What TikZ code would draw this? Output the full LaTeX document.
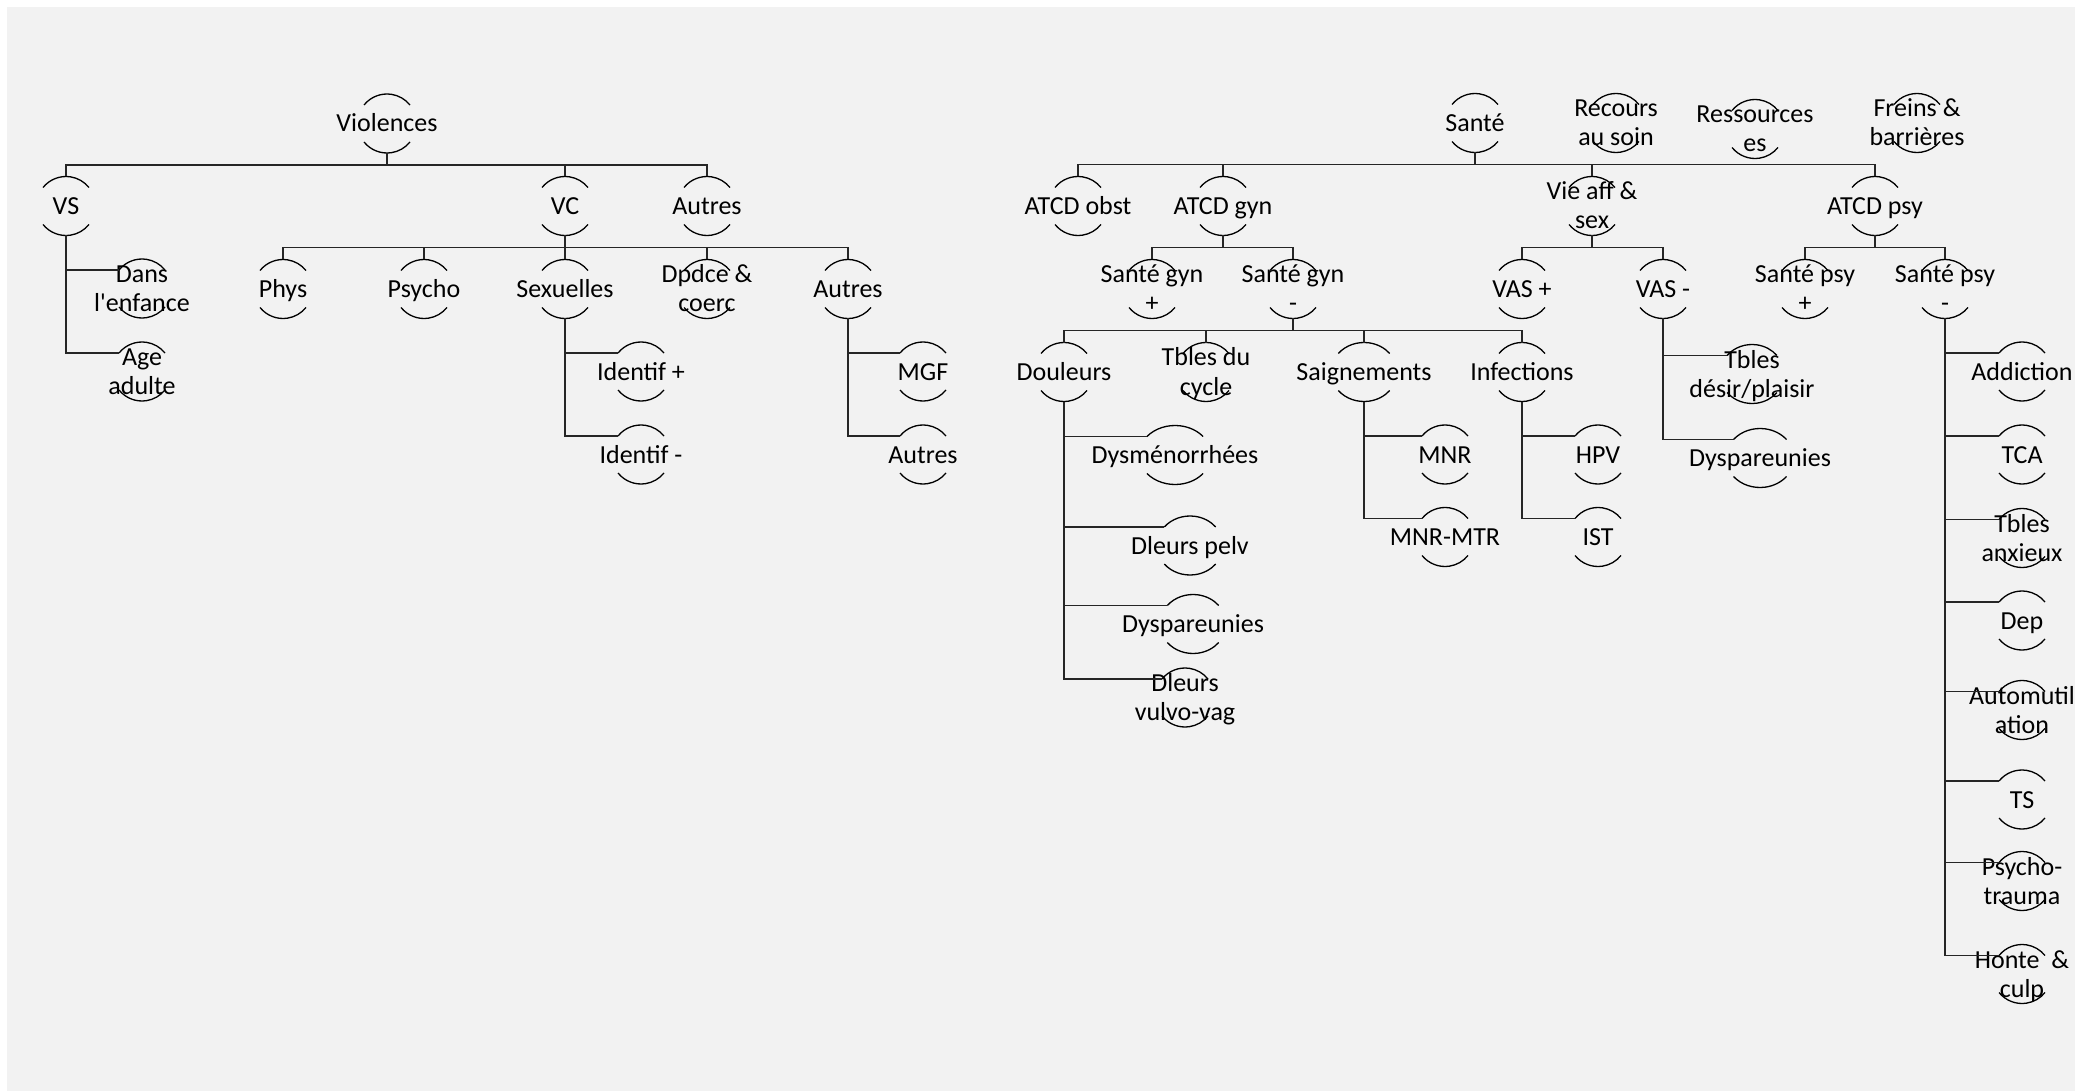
\documentclass[tikz,border=0pt]{standalone}
\usepackage{fontspec}
\setmainfont{Carlito}[Ligatures=TeXOff]
\definecolor{bgc}{HTML}{F2F2F2}
\definecolor{lnc}{HTML}{262626}
\tikzset{
  lbl/.style={inner sep=0pt, outer sep=0pt, align=center, text=black,
    font={\fontsize{26}{29}\selectfont\lineskiplimit=-100pt},
    execute at end node={\rule[-6pt]{0pt}{29pt}}},
  arcln/.style={line width=1.3pt, draw=black},
  conn/.style={line width=1.8pt, draw=lnc}
}
% name, x, y (pixels, downward), x radius, text
\newcommand\hnode[5]{%
  \node[lbl] (#1) at (#2,-#3) {\rule[-6pt]{0pt}{29pt}#5};
  \coordinate (#1-t) at (#2,-#3+29.5);
  \coordinate (#1-b) at (#2,-#3-29.5);
  \coordinate (#1-l) at (#2-0.779*#4,-#3+18.5);
  \draw[arcln] ([shift={(141.2:#4pt and 29.5pt)}]#1.center) arc[start angle=141.2,end angle=38.8,x radius=#4pt,y radius=29.5pt];
  \draw[arcln] ([shift={(218.8:#4pt and 29.5pt)}]#1.center) arc[start angle=218.8,end angle=321.2,x radius=#4pt,y radius=29.5pt];
}
\newcommand\barto[2]{\draw[conn] (#1-b) -- ++(0,-12) -| (#2-t);}
\newcommand\listto[2]{\draw[conn] (#1-b) |- (#2-l);}
\begin{document}
\begin{tikzpicture}[x=1pt,y=1pt]
\useasboundingbox (0,0) rectangle (2075,-1091);
\clip (0,0) rectangle (2075,-1091);
\fill[white] (0,0) rectangle (2075,-1091);
\fill[bgc] (7,-7) rectangle (2075,-1091);

% ---------- Violences tree ----------
\hnode{vio}{387}{123.5}{29.5}{Violences}
\hnode{vs}{66}{206}{29.5}{VS}
\hnode{vc}{565}{206}{29.5}{VC}
\hnode{aut1}{707}{206}{29.5}{Autres}
\hnode{enf}{142}{288.5}{29.5}{Dans\\l'enfance}
\hnode{age}{142}{371.5}{29.5}{Age\\adulte}
\hnode{phys}{283}{289}{29.5}{Phys}
\hnode{psycho}{424}{289}{29.5}{Psycho}
\hnode{sex}{565}{289}{29.5}{Sexuelles}
\hnode{dpd}{707}{289}{29.5}{Dpdce \&\\coerc}
\hnode{aut2}{848}{289}{29.5}{Autres}
\hnode{idp}{641}{371.5}{29.5}{Identif +}
\hnode{idm}{641}{454.5}{29.5}{Identif -}
\hnode{mgf}{923}{371.5}{29.5}{MGF}
\hnode{aut3}{923}{454.5}{29.5}{Autres}

\barto{vio}{vs}\barto{vio}{vc}\barto{vio}{aut1}
\listto{vs}{enf}\listto{vs}{age}
\barto{vc}{phys}\barto{vc}{psycho}\barto{vc}{sex}\barto{vc}{dpd}\barto{vc}{aut2}
\listto{sex}{idp}\listto{sex}{idm}
\listto{aut2}{mgf}\listto{aut2}{aut3}

% ---------- Santé tree ----------
\hnode{sante}{1475}{123}{29.5}{Santé}
\hnode{rec}{1616}{123}{29.5}{Recours\\au soin}
\hnode{res}{1755}{129}{29.5}{Ressources\\es}
\hnode{fre}{1917}{123}{29.5}{Freins \&\\barrières}
\hnode{obst}{1078}{206}{29.5}{ATCD obst}
\hnode{gyn}{1223}{206}{29.5}{ATCD gyn}
\hnode{vie}{1592}{206}{29.5}{Vie aff \&\\sex}
\hnode{psy}{1875}{206}{29.5}{ATCD psy}
\hnode{sgp}{1152}{289}{29.5}{Santé gyn\\+}
\hnode{sgm}{1293}{289}{29.5}{Santé gyn\\-}
\hnode{vasp}{1522}{289}{29.5}{VAS +}
\hnode{vasm}{1663}{289}{29.5}{VAS -}
\hnode{spp}{1805}{289}{29.5}{Santé psy\\+}
\hnode{spm}{1945}{289}{29.5}{Santé psy\\-}
\hnode{dou}{1064}{372}{29.5}{Douleurs}
\hnode{cyc}{1206}{372}{29.5}{Tbles du\\cycle}
\hnode{sai}{1364}{372}{33}{Saignements}
\hnode{inf}{1522}{372}{29.5}{Infections}
\hnode{dysm}{1175}{455}{36}{Dysménorrhées}
\hnode{pelv}{1190}{545.5}{33}{Dleurs pelv}
\hnode{dysp}{1193}{624}{33}{Dyspareunies}
\hnode{vv}{1185}{697.5}{29.5}{Dleurs\\vulvo-vag}
\hnode{mnr}{1445}{454.5}{29.5}{MNR}
\hnode{mtr}{1445}{537}{29.5}{MNR-MTR}
\hnode{hpv}{1598}{454.5}{29.5}{HPV}
\hnode{ist}{1598}{537}{29.5}{IST}
\hnode{tdp}{1752}{374}{32}{Tbles\\désir/plaisir}
\hnode{dysq}{1760}{458}{34}{Dyspareunies}
\hnode{add}{2022}{371.5}{29.5}{Addiction}
\hnode{tca}{2022}{454.5}{29.5}{TCA}
\hnode{anx}{2022}{538}{29.5}{Tbles\\anxieux}
\hnode{dep}{2022}{620.5}{29.5}{Dep}
\hnode{aut}{2022}{710}{29.5}{Automutil\\ation}
\hnode{ts}{2022}{799.5}{29.5}{TS}
\hnode{ptr}{2022}{881}{29.5}{Psycho-\\trauma}
\hnode{hon}{2022}{974}{29.5}{Honte~ \&\\culp}

\barto{sante}{obst}\barto{sante}{gyn}\barto{sante}{vie}\barto{sante}{psy}
\barto{gyn}{sgp}\barto{gyn}{sgm}
\barto{vie}{vasp}\barto{vie}{vasm}
\barto{psy}{spp}\barto{psy}{spm}
\barto{sgm}{dou}\barto{sgm}{cyc}\barto{sgm}{sai}\barto{sgm}{inf}
\listto{dou}{dysm}\listto{dou}{pelv}\listto{dou}{dysp}\listto{dou}{vv}
\listto{sai}{mnr}\listto{sai}{mtr}
\listto{inf}{hpv}\listto{inf}{ist}
\listto{vasm}{tdp}\listto{vasm}{dysq}
\listto{spm}{add}\listto{spm}{tca}\listto{spm}{anx}\listto{spm}{dep}
\listto{spm}{aut}\listto{spm}{ts}\listto{spm}{ptr}\listto{spm}{hon}
\end{tikzpicture}
\end{document}
